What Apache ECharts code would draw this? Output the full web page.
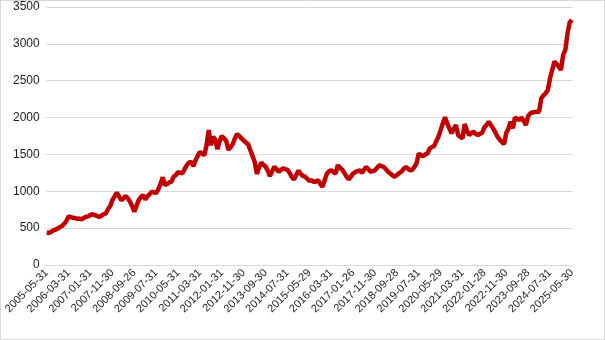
<!DOCTYPE html>
<html>
<head>
<meta charset="utf-8">
<script src="https://cdn.jsdelivr.net/npm/echarts@6/dist/echarts.min.js"></script>
<style>
html, body { margin: 0; padding: 0; background: #fff; }
#main { width: 603px; height: 338px; border: 1px solid #d9d9d9; }
</style>
</head>
<body>
<div id="main"></div>
<script>
// 显示出来的日期标签（每10个月一个）
var tickLabels = ["2005-05-31", "2006-03-31", "2007-01-31", "2007-11-30", "2008-09-26",
	"2009-07-31", "2010-05-31", "2011-03-31", "2012-01-31", "2012-11-30", "2013-09-30",
	"2014-07-31", "2015-05-29", "2016-03-31", "2017-01-26", "2017-11-30", "2018-09-28",
	"2019-07-31", "2020-05-29", "2021-03-31", "2022-01-28", "2022-11-30", "2023-09-28",
	"2024-07-31", "2025-05-30"];

// 月末净值（2005-05 ~ 2025-05）
var values = [
	440, 435, 450, 470, 480, 495, 515, 530, 560, 600,
	660, 650, 640, 635, 625, 630, 620, 640, 655, 660,
	680, 690, 675, 665, 650, 670, 690, 700, 760, 800,
	880, 930, 980, 930, 880, 900, 935, 905, 860, 800,
	725, 800, 880, 920, 950, 890, 930, 960, 995, 985,
	975, 1030, 1100, 1190, 1085, 1100, 1120, 1130, 1200, 1220,
	1260, 1250, 1245, 1300, 1355, 1390, 1400, 1340, 1420, 1480,
	1535, 1510, 1490, 1620, 1830, 1625, 1740, 1700, 1570, 1680,
	1750, 1720, 1685, 1560, 1600, 1640, 1720, 1775, 1750, 1715,
	1690, 1660, 1640, 1560, 1480, 1400, 1235, 1320, 1390, 1360,
	1335, 1280, 1205, 1270, 1335, 1300, 1265, 1290, 1310, 1300,
	1290, 1250, 1190, 1160, 1220, 1280, 1240, 1210, 1200, 1170,
	1140, 1150, 1128, 1130, 1150, 1100, 1060, 1150, 1240, 1270,
	1285, 1260, 1240, 1355, 1320, 1296, 1250, 1200, 1160, 1200,
	1240, 1260, 1275, 1285, 1250, 1290, 1330, 1300, 1264, 1275,
	1285, 1320, 1355, 1340, 1330, 1300, 1264, 1240, 1215, 1196,
	1220, 1245, 1264, 1300, 1330, 1310, 1285, 1290, 1330, 1377,
	1513, 1490, 1477, 1500, 1513, 1580, 1600, 1613, 1680, 1740,
	1830, 1920, 2003, 1920, 1850, 1785, 1850, 1898, 1762, 1740,
	1717, 1912, 1830, 1762, 1790, 1808, 1780, 1762, 1780, 1794,
	1867, 1900, 1944, 1900, 1853, 1800, 1740, 1700, 1670, 1640,
	1794, 1850, 1944, 1853, 2003, 1980, 1966, 2003, 1950, 1898,
	2021, 2057, 2070, 2075, 2078, 2080, 2261, 2300, 2330, 2375,
	2533, 2646, 2760, 2728, 2690, 2646, 2850, 2918, 3145, 3290,
	3326
];

// 日期类目：标签处用实际日期，其余用月末
var dates = [];
for (var i = 0; i < values.length; i++) {
	if (i % 10 == 0) {
		dates.push(tickLabels[i / 10]);
	} else {
		var y = 2005 + Math.floor((4 + i) / 12);
		var m = (4 + i) % 12 + 1;
		var d = new Date(Date.UTC(y, m, 0)).getUTCDate();
		dates.push(y + "-" + (m < 10 ? "0" + m : m) + "-" + d);
	}
}

var chart = echarts.init(document.getElementById('main'));
var option = {
	animation: false,
	grid: { left: 41, right: 31, top: 6, bottom: 74, containLabel: false },
	xAxis: {
		type: 'category',
		data: dates,
		axisLine: { lineStyle: { color: '#d9d9d9' } },
		axisTick: { interval: 0, length: 5, lineStyle: { color: '#d9d9d9' } },
		axisLabel: {
			interval: 9,
			rotate: 45,
			margin: 6,
			color: '#222',
			fontSize: 11,
			fontFamily: 'Liberation Sans'
		}
	},
	yAxis: {
		type: 'value',
		min: 0,
		max: 3500,
		interval: 500,
		axisLine: { show: false },
		axisTick: { show: false },
		splitLine: { lineStyle: { color: '#d9d9d9' } },
		axisLabel: {
			color: '#222',
			fontSize: 12,
			margin: 6,
			fontFamily: 'Liberation Sans',
			formatter: function(v) { return String(v); }
		}
	},
	series: [{
		type: 'line',
		data: values,
		showSymbol: false,
		lineStyle: { color: '#c00000', width: 4.5 }
	}]
};
chart.setOption(option);
</script>
</body>
</html>
